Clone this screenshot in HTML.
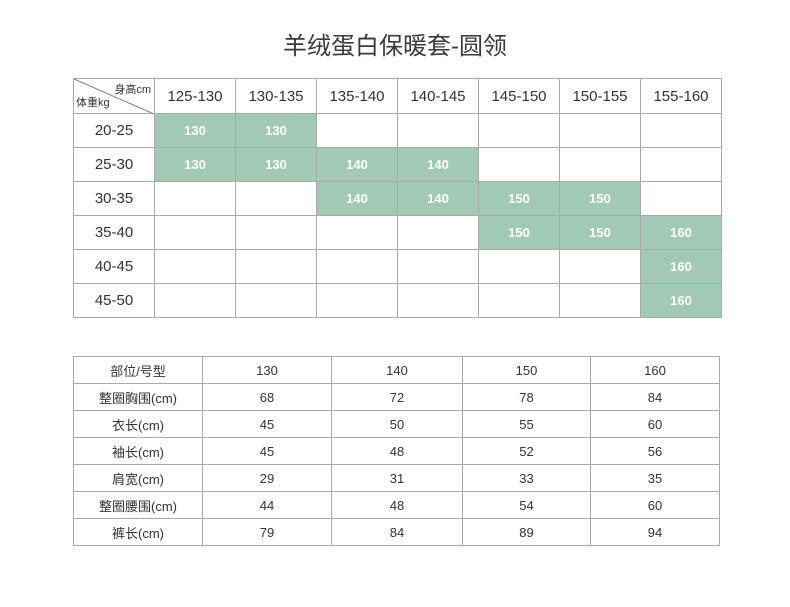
<!DOCTYPE html><html><head><meta charset="utf-8"><style>
body{margin:0;width:790px;height:607px;background:#fff;position:relative;font-family:"Liberation Sans","Noto Sans CJK SC",sans-serif;color:#333;overflow:hidden}
.t{position:absolute;left:0;width:790px;top:26px;text-align:center;font-size:24px;color:#3a3a3a}
table{position:absolute;border-collapse:collapse;table-layout:fixed}
td{border:1px solid #aaa;text-align:center;padding:0}
#a{left:73px;top:78px}
#a td{height:33px;font-size:15px;width:80px}
#a tr:first-child td{height:34px}
#a td.g{background:#a2c9b6;color:#fff;font-size:13px;font-weight:bold}
#b{left:73px;top:356px}
#b td{height:26px;font-size:13px}
</style></head><body>
<div class="t">羊绒蛋白保暖套-圆领</div>
<table id="a">
<tr><td style="position:relative;font-size:11px;width:79px"><svg style="position:absolute;left:0;top:0" width="80" height="35"><line x1="0" y1="0" x2="80" y2="35" stroke="#777"/></svg><span style="position:absolute;right:3px;top:2px">身高cm</span><span style="position:absolute;left:2px;bottom:3px">体重kg</span></td><td>125-130</td><td>130-135</td><td>135-140</td><td>140-145</td><td>145-150</td><td>150-155</td><td>155-160</td></tr>
<tr><td>20-25</td><td class="g">130</td><td class="g">130</td><td></td><td></td><td></td><td></td><td></td></tr>
<tr><td>25-30</td><td class="g">130</td><td class="g">130</td><td class="g">140</td><td class="g">140</td><td></td><td></td><td></td></tr>
<tr><td>30-35</td><td></td><td></td><td class="g">140</td><td class="g">140</td><td class="g">150</td><td class="g">150</td><td></td></tr>
<tr><td>35-40</td><td></td><td></td><td></td><td></td><td class="g">150</td><td class="g">150</td><td class="g">160</td></tr>
<tr><td>40-45</td><td></td><td></td><td></td><td></td><td></td><td></td><td class="g">160</td></tr>
<tr><td>45-50</td><td></td><td></td><td></td><td></td><td></td><td></td><td class="g">160</td></tr>
</table>
<table id="b">
<colgroup><col style="width:129px"><col style="width:129px"><col style="width:131px"><col style="width:128px"><col style="width:129px"></colgroup>
<tr><td>部位/号型</td><td>130</td><td>140</td><td>150</td><td>160</td></tr>
<tr><td>整圈胸围(cm)</td><td>68</td><td>72</td><td>78</td><td>84</td></tr>
<tr><td>衣长(cm)</td><td>45</td><td>50</td><td>55</td><td>60</td></tr>
<tr><td>袖长(cm)</td><td>45</td><td>48</td><td>52</td><td>56</td></tr>
<tr><td>肩宽(cm)</td><td>29</td><td>31</td><td>33</td><td>35</td></tr>
<tr><td>整圈腰围(cm)</td><td>44</td><td>48</td><td>54</td><td>60</td></tr>
<tr><td>裤长(cm)</td><td>79</td><td>84</td><td>89</td><td>94</td></tr>
</table>
</body></html>
